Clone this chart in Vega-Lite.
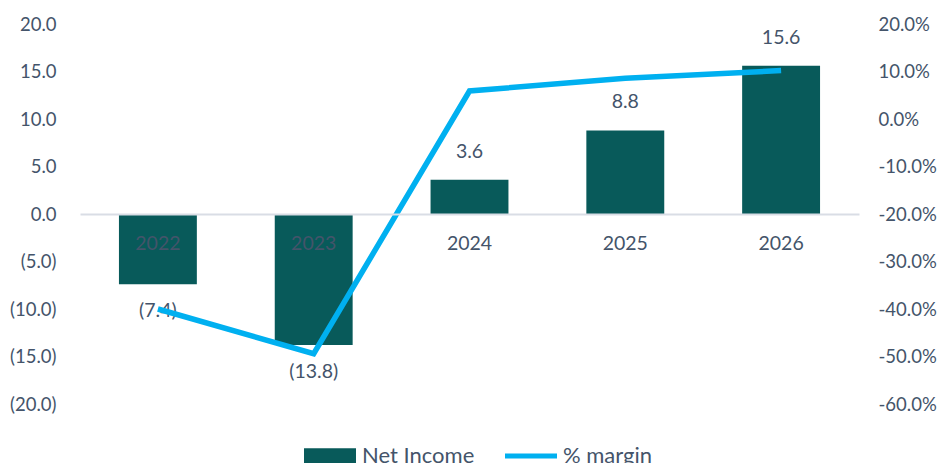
{
  "$schema": "https://vega.github.io/schema/vega-lite/v6.json",
  "width": 779,
  "height": 380,
  "autosize": {"type": "none"},
  "padding": {"left": 80, "top": 24, "right": 78, "bottom": 59},
  "background": "white",
  "config": {
    "view": {"stroke": null},
    "font": "Lato",
    "axis": {"labelFont": "Lato", "labelColor": "#44546a", "ticks": false, "grid": false, "domain": false, "title": null},
    "legend": {"labelFont": "Lato", "labelColor": "#44546a"}
  },
  "data": {
    "values": [
      {"year": "2022", "net": -7.4, "label": "(7.4)", "margin": -0.40},
      {"year": "2023", "net": -13.8, "label": "(13.8)", "margin": -0.494},
      {"year": "2024", "net": 3.6, "label": "3.6", "margin": 0.059},
      {"year": "2025", "net": 8.8, "label": "8.8", "margin": 0.086},
      {"year": "2026", "net": 15.6, "label": "15.6", "margin": 0.102}
    ]
  },
  "layer": [
    {
      "layer": [
        {
          "mark": {"type": "bar", "color": "#085a5a"},
          "encoding": {
            "x": {
              "field": "year", "type": "nominal", "sort": null,
              "scale": {"paddingInner": 0.5, "paddingOuter": 0.25},
              "axis": {
                "orient": "bottom", "offset": -190, "labelAngle": 0,
                "domain": true, "domainColor": "#d9dde5", "domainWidth": 2,
                "labelFontSize": 19.5, "labelPadding": 20, "zindex": 1
              }
            },
            "y": {
              "field": "net", "type": "quantitative",
              "scale": {"domain": [-20, 20], "nice": false, "zero": false},
              "axis": {
                "orient": "left", "values": [-20, -15, -10, -5, 0, 5, 10, 15, 20],
                "labelFontSize": 18.5, "labelPadding": 24,
                "labelExpr": "datum.value < 0 ? '(' + format(-datum.value, '.1f') + ')' : format(datum.value, '.1f')"
              }
            },
            "color": {
              "datum": "Net Income", "type": "nominal",
              "scale": {"domain": ["Net Income", "% margin"], "range": ["#085a5a", "#00b0f0"]},
              "legend": {
                "title": null, "orient": "none", "direction": "horizontal",
                "legendX": 224, "legendY": 406, "padding": 0,
                "symbolSize": 2704, "labelFontSize": 22, "labelOffset": 6, "columnPadding": 30,
                "symbolStrokeWidth": 0,
                "encode": {
                  "symbols": {
                    "update": {
                      "shape": {"signal": "datum.value === 'Net Income' ? 'M-1,-0.3H1V0.3H-1Z' : 'M-1,-0.1H1V0.1H-1Z'"},
                      "fill": {"signal": "datum.value === 'Net Income' ? '#085a5a' : '#00b0f0'"},
                      "strokeWidth": {"value": 0},
                      "opacity": {"value": 1}
                    }
                  }
                }
              }
            }
          }
        },
        {
          "transform": [{"filter": "datum.net >= 0"}],
          "mark": {"type": "text", "dy": -28, "baseline": "middle", "fontSize": 19.5, "color": "#44546a", "font": "Lato"},
          "encoding": {
            "x": {"field": "year", "type": "nominal", "sort": null},
            "y": {"field": "net", "type": "quantitative"},
            "text": {"field": "label"}
          }
        },
        {
          "transform": [{"filter": "datum.net < 0"}],
          "mark": {"type": "text", "dy": 27, "baseline": "middle", "fontSize": 19.5, "color": "#44546a", "font": "Lato"},
          "encoding": {
            "x": {"field": "year", "type": "nominal", "sort": null},
            "y": {"field": "net", "type": "quantitative"},
            "text": {"field": "label"}
          }
        }
      ]
    },
    {
      "mark": {"type": "line", "strokeWidth": 5.5, "color": "#00b0f0"},
      "encoding": {
        "x": {"field": "year", "type": "nominal", "sort": null},
        "y": {
          "field": "margin", "type": "quantitative",
          "scale": {"domain": [-0.6, 0.2], "nice": false, "zero": false},
          "axis": {
            "orient": "right", "values": [-0.6, -0.5, -0.4, -0.3, -0.2, -0.1, 0, 0.1, 0.2],
            "labelFontSize": 18.5, "labelPadding": 19,
            "labelExpr": "(datum.value < -0.0001 ? '-' : '') + format(abs(datum.value), '.1%')"
          }
        },
        "color": {"datum": "% margin", "type": "nominal"}
      }
    }
  ],
  "resolve": {"scale": {"y": "independent"}}
}
